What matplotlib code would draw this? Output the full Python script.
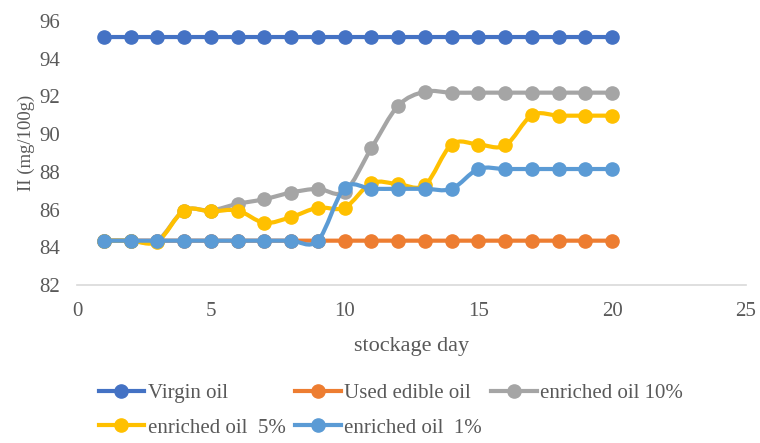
import numpy as np
import matplotlib.pyplot as plt
from matplotlib.path import Path
from matplotlib.patches import PathPatch
from matplotlib.lines import Line2D

plt.rcParams['font.family'] = ['Liberation Serif', 'DejaVu Serif']

days = list(range(1, 21))
virgin = [95.15] * 20
used = [84.35] * 20
enriched_10 = [84.35, 84.35, 84.35, 85.95, 85.95, 86.3, 86.55, 86.9, 87.1, 86.95,
               89.25, 91.5, 92.25, 92.2, 92.2, 92.2, 92.2, 92.2, 92.2, 92.2]
enriched_5 = [84.35, 84.35, 84.3, 85.95, 85.9, 85.95, 85.3, 85.6, 86.1, 86.1,
              87.4, 87.35, 87.3, 89.45, 89.45, 89.4, 91.0, 90.98, 90.98, 90.98]
enriched_1 = [84.35, 84.35, 84.35, 84.35, 84.35, 84.35, 84.35, 84.35, 84.35, 87.15,
              87.1, 87.1, 87.1, 87.1, 88.15, 88.15, 88.15, 88.15, 88.15, 88.15]

series = [
    ('Virgin oil', virgin, '#4472C4'),
    ('Used edible oil', used, '#ED7D31'),
    ('enriched oil 10%', enriched_10, '#A5A5A5'),
    ('enriched oil  5%', enriched_5, '#FFC000'),
    ('enriched oil  1%', enriched_1, '#5B9BD5'),
]

text_color = '#595959'


def smooth_path(x, y):
    # cubic Bezier through the points, Catmull-Rom style tangents
    pts = np.column_stack([x, y]).astype(float)
    n = len(pts)
    verts = [pts[0]]
    codes = [Path.MOVETO]
    for i in range(n - 1):
        p0 = pts[i - 1] if i > 0 else pts[i]
        p1 = pts[i]
        p2 = pts[i + 1]
        p3 = pts[i + 2] if i + 2 < n else pts[i + 1]
        c1 = p1 + (p2 - p0) / 6.0
        c2 = p2 - (p3 - p1) / 6.0
        verts += [c1, c2, p2]
        codes += [Path.CURVE4] * 3
    return Path(verts, codes)


fig = plt.figure(figsize=(7.6, 4.43), dpi=100)
ax = fig.add_axes([0.1013, 0.3567, 0.8803, 0.5959])

handles = []
for k, (name, vals, color) in enumerate(series):
    patch = PathPatch(smooth_path(days, vals), facecolor='none', edgecolor=color,
                      lw=3, capstyle='round', joinstyle='round', zorder=2 + k)
    ax.add_patch(patch)
    ax.plot(days, vals, linestyle='none', marker='o', markersize=9.5,
            color=color, zorder=2 + k)
    handles.append(Line2D([], [], color=color, lw=3, marker='o', markersize=9.5))

ax.set_xlim(0, 25)
ax.set_ylim(82, 96)
ax.set_xticks(range(0, 26, 5))
ax.set_yticks(range(82, 97, 2))

for side in ['top', 'right', 'left']:
    ax.spines[side].set_visible(False)
ax.spines['bottom'].set_color('#D9D9D9')
ax.spines['bottom'].set_linewidth(1.2)
ax.tick_params(axis='both', length=0, labelsize=15, colors=text_color)
ax.tick_params(axis='x', pad=12)
ax.tick_params(axis='y', pad=12)

ax.set_xlabel('stockage day', fontsize=16, color=text_color, labelpad=12)
ax.set_ylabel('II (mg/100g)', fontsize=13.5, color=text_color)
ax.yaxis.set_label_coords(-0.063, 0.54)

order = [0, 3, 1, 4, 2]
names = [s[0] for s in series]
fig.legend([handles[i] for i in order], [names[i] for i in order],
           loc='lower left', bbox_to_anchor=(0.105, -0.03), ncol=3, frameon=False,
           fontsize=15, labelcolor=text_color, handlelength=2.2,
           handletextpad=0.15, columnspacing=0.45, labelspacing=0.7)

fig.savefig('out.png', dpi=100)
